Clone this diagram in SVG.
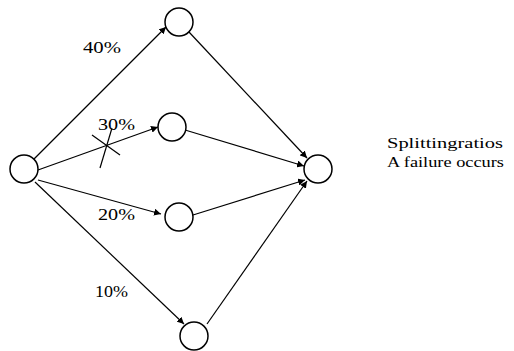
<svg xmlns="http://www.w3.org/2000/svg" width="514" height="351" viewBox="0 0 514 351">
<style>
.node{fill:#fff;stroke:#000;stroke-width:1.5}
.edge{stroke:#000;stroke-width:1.2;fill:none}
text{font-family:'Liberation Serif','DejaVu Serif',serif;font-size:17px;fill:#000}
</style>
<defs>
<marker id="arr" viewBox="0 0 10 10" refX="10" refY="5" markerWidth="7" markerHeight="7" markerUnits="userSpaceOnUse" orient="auto">
<path d="M0,0 L10,5 L0,10 z" fill="#000"/>
</marker>
</defs>
<rect width="514" height="351" fill="#fff"/>
<g id="connectors">
<line class="edge" x1="34" y1="159" x2="166" y2="27" marker-end="url(#arr)"/>
<line class="edge" x1="38" y1="170" x2="158" y2="127" marker-end="url(#arr)"/>
<line class="edge" x1="38" y1="180" x2="161" y2="214" marker-end="url(#arr)"/>
<line class="edge" x1="35" y1="182" x2="184" y2="324" marker-end="url(#arr)"/>
<line class="edge" x1="189" y1="32" x2="307" y2="158" marker-end="url(#arr)"/>
<line class="edge" x1="185" y1="130" x2="304" y2="166" marker-end="url(#arr)"/>
<line class="edge" x1="193" y1="215" x2="305" y2="180" marker-end="url(#arr)"/>
<line class="edge" x1="207" y1="324" x2="307" y2="181" marker-end="url(#arr)"/>
<line class="edge" x1="92" y1="135" x2="120" y2="155"/>
<line class="edge" x1="112" y1="128" x2="100" y2="168"/>
</g>
<g id="n-source"><circle class="node" cx="24" cy="169" r="14"/></g>
<g id="n-1"><circle class="node" cx="179" cy="22" r="14"/></g>
<g id="n-2"><circle class="node" cx="172" cy="127" r="14"/></g>
<g id="n-3"><circle class="node" cx="179" cy="217" r="14"/></g>
<g id="n-4"><circle class="node" cx="194" cy="336" r="14"/></g>
<g id="n-sink"><circle class="node" cx="318" cy="169" r="14"/></g>
<g id="labels">
<text x="83" y="53" font-family="Liberation Serif, serif" textLength="38" lengthAdjust="spacingAndGlyphs">40%</text>
<text x="98" y="130" font-family="Liberation Serif, serif" textLength="37" lengthAdjust="spacingAndGlyphs">30%</text>
<text x="98" y="220" font-family="Liberation Serif, serif" textLength="37" lengthAdjust="spacingAndGlyphs">20%</text>
<text x="95" y="297" font-family="Liberation Serif, serif" textLength="33" lengthAdjust="spacingAndGlyphs">10%</text>
<text x="387" y="148" font-family="Liberation Serif, serif" style="font-size:15px" textLength="116" lengthAdjust="spacingAndGlyphs">Splittingratios</text>
<text x="387" y="167" font-family="Liberation Serif, serif" style="font-size:15px" textLength="117" lengthAdjust="spacingAndGlyphs">A failure occurs</text>
</g>
</svg>
